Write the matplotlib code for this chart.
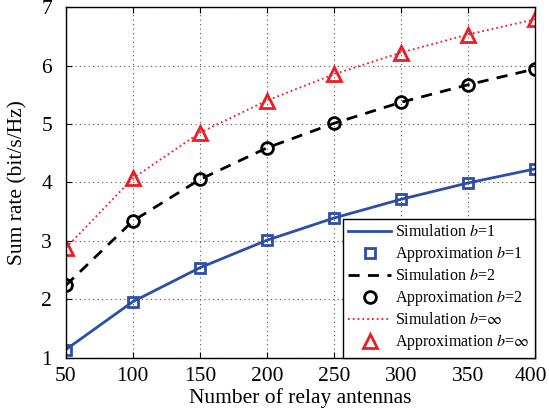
import matplotlib
matplotlib.use("Agg")
import matplotlib.pyplot as plt
import matplotlib.transforms as mtransforms

plt.rcParams['font.family'] = 'Liberation Serif'
plt.rcParams['mathtext.fontset'] = 'stix'

antennas = [50, 100, 150, 200, 250, 300, 350, 400]
rate_b1 = [1.14, 1.96, 2.54, 3.01, 3.39, 3.71, 3.99, 4.23]
rate_b2 = [2.24, 3.34, 4.05, 4.59, 5.01, 5.37, 5.67, 5.94]
rate_inf = [2.88, 4.07, 4.85, 5.40, 5.85, 6.22, 6.53, 6.79]

blue = '#2B4EA8'
red = '#EE1C25'

fig = plt.figure(figsize=(5.49, 4.16), dpi=100)
ax = fig.add_axes([0.120, 0.140, 0.854, 0.843])

ax.plot(antennas, rate_b1, '-', color=blue, lw=2, label='Simulation $b$=1')
ax.plot(antennas, rate_b1, 's', color=blue, mfc='none', mew=2, ms=7, label='Approximation $b$=1')
ax.plot(antennas, rate_b2, '--', color='black', lw=2, dashes=(4, 3), label='Simulation $b$=2')
ax.plot(antennas, rate_b2, 'o', color='black', mfc='none', mew=2, ms=8.5, label='Approximation $b$=2')
ax.plot(antennas, rate_inf, ':', color=red, lw=1.3, label=r'Simulation $b$=$\infty$')
ax.plot(antennas, rate_inf, '^', color=red, mfc='none', mew=2, ms=10, label=r'Approximation $b$=$\infty$')

ax.set_xlim(50, 400)
ax.set_ylim(1, 7)
ax.set_xticks(antennas)
ax.set_yticks(range(1, 8))
ax.grid(True, linestyle=(0, (1, 3)), color='#555555', lw=0.8)
ax.tick_params(direction='in', labelsize=15.5, length=4, top=True, right=True)
ax.tick_params(axis='x', pad=7)
ax.tick_params(axis='y', pad=10)
for s in ax.spines.values():
    s.set_linewidth(1.0)

# last x label sits a bit left, as in the original
fig.canvas.draw()
last = ax.get_xticklabels()[-1]
last.set_transform(last.get_transform() + mtransforms.ScaledTranslation(-4 / 100, 0, fig.dpi_scale_trans))

ax.set_xlabel('Number of relay antennas', fontsize=15.5, labelpad=1)
ax.set_ylabel('Sum rate (bit/s/Hz)', fontsize=15.5, labelpad=10)

leg = ax.legend(loc='lower right', fontsize=11.5, fancybox=False, framealpha=1,
                edgecolor='black', handlelength=2.7, handletextpad=0.2,
                borderpad=0.35, labelspacing=0.25, borderaxespad=0)
leg.get_frame().set_linewidth(1.0)

fig.savefig('out.png', dpi=100)
